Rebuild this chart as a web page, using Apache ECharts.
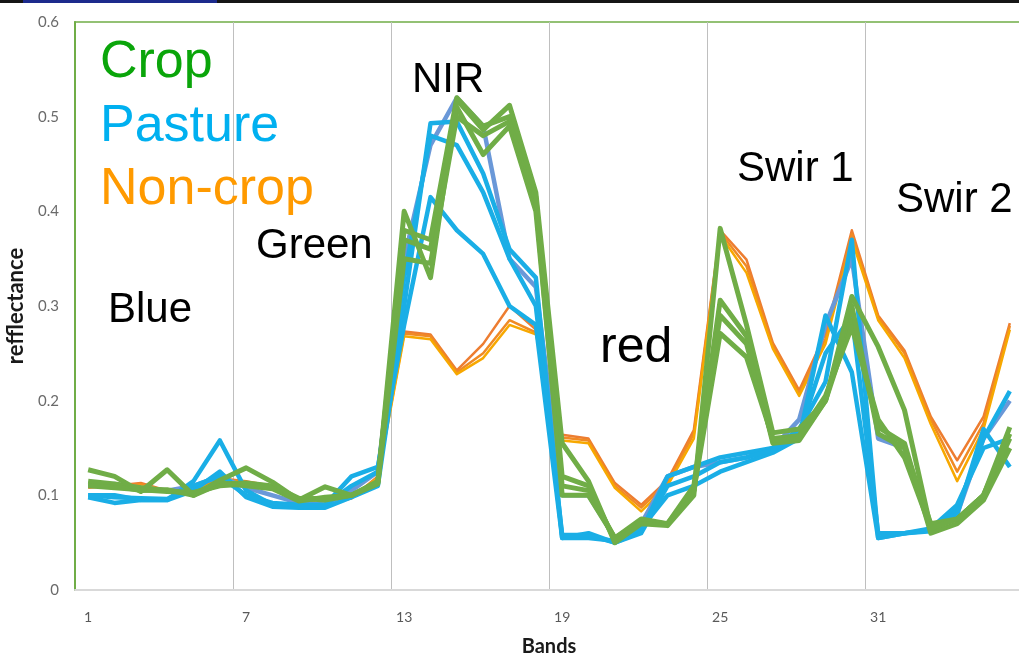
<!DOCTYPE html>
<html>
<head>
<meta charset="utf-8">
<script src="https://cdn.jsdelivr.net/npm/echarts@6/dist/echarts.min.js"></script>
<style>
html,body{margin:0;padding:0;background:#fff;}
#chart{width:1019px;height:663px;}
</style>
</head>
<body>
<div id="chart"></div>
<script>
// Band numbers (categories)
var bands = ['1','2','3','4','5','6','7','8','9','10','11','12','13','14','15','16','17','18','19','20','21','22','23','24','25','26','27','28','29','30','31','32','33','34','35','36'];
var yTicks = [0, 0.1, 0.2, 0.3, 0.4, 0.5, 0.6];

// Non-crop spectra
var nonCrop1 = [0.108,0.110,0.113,0.105,0.105,0.118,0.115,0.110,0.095,0.090,0.097,0.120, 0.273,0.270,0.232,0.260,0.300,0.275, 0.164,0.160,0.113,0.090,0.116,0.169, 0.380,0.349,0.261,0.211,0.271,0.380, 0.290,0.253,0.183,0.137,0.183,0.282];
var nonCrop2 = [0.110,0.108,0.110,0.106,0.104,0.116,0.113,0.108,0.094,0.091,0.098,0.118, 0.268,0.265,0.228,0.245,0.280,0.270, 0.158,0.155,0.108,0.083,0.110,0.160, 0.375,0.335,0.255,0.205,0.260,0.370, 0.285,0.245,0.175,0.115,0.170,0.275];
var nonCrop3 = [0.109,0.109,0.112,0.104,0.104,0.117,0.114,0.109,0.094,0.090,0.097,0.119, 0.271,0.268,0.230,0.250,0.285,0.272, 0.161,0.158,0.110,0.087,0.113,0.165, 0.378,0.342,0.258,0.208,0.265,0.376, 0.288,0.250,0.180,0.125,0.176,0.279];

// Pasture spectra
var pasture1 = [0.098,0.092,0.095,0.095,0.105,0.125,0.098,0.088,0.087,0.087,0.098,0.110, 0.300,0.493,0.495,0.440,0.360,0.330, 0.055,0.060,0.050,0.062,0.120,0.130, 0.140,0.145,0.150,0.170,0.220,0.370, 0.055,0.060,0.062,0.085,0.160,0.210];
var pasture2 = [0.100,0.100,0.095,0.095,0.115,0.158,0.105,0.090,0.088,0.090,0.120,0.130, 0.280,0.415,0.380,0.355,0.300,0.280, 0.055,0.055,0.052,0.065,0.100,0.110, 0.125,0.135,0.145,0.160,0.290,0.230, 0.055,0.060,0.063,0.080,0.170,0.130];
var pasture3 = [0.100,0.098,0.097,0.096,0.110,0.120,0.100,0.092,0.090,0.090,0.110,0.125, 0.330,0.480,0.470,0.420,0.350,0.300, 0.058,0.058,0.050,0.060,0.110,0.120, 0.135,0.140,0.148,0.165,0.250,0.290, 0.060,0.060,0.065,0.090,0.150,0.160];
var pasture4 = [0.110,0.112,0.108,0.105,0.110,0.120,0.108,0.100,0.092,0.090,0.105,0.125, 0.350,0.470,0.520,0.490,0.350,0.320, 0.100,0.100,0.055,0.070,0.120,0.130, 0.135,0.140,0.150,0.180,0.280,0.350, 0.160,0.150,0.065,0.080,0.160,0.200];

// Crop spectra
var crop1 = [0.127,0.120,0.104,0.127,0.100,0.116,0.129,0.114,0.095,0.109,0.100,0.113, 0.400,0.330,0.518,0.486,0.512,0.420, 0.155,0.115,0.050,0.070,0.068,0.100, 0.382,0.280,0.166,0.170,0.200,0.310, 0.257,0.190,0.065,0.075,0.100,0.172];
var crop2 = [0.112,0.110,0.105,0.106,0.100,0.112,0.113,0.110,0.097,0.095,0.100,0.115, 0.370,0.360,0.510,0.460,0.490,0.400, 0.110,0.105,0.055,0.075,0.070,0.110, 0.306,0.268,0.155,0.158,0.200,0.285, 0.172,0.155,0.060,0.070,0.095,0.150];
var crop3 = [0.115,0.112,0.108,0.105,0.102,0.113,0.110,0.107,0.094,0.098,0.100,0.112, 0.350,0.345,0.500,0.480,0.495,0.410, 0.100,0.100,0.055,0.072,0.070,0.105, 0.271,0.246,0.160,0.163,0.205,0.278, 0.180,0.140,0.065,0.075,0.100,0.160];
var crop4 = [0.110,0.108,0.106,0.104,0.103,0.110,0.112,0.108,0.096,0.097,0.100,0.114, 0.380,0.370,0.520,0.490,0.500,0.415, 0.120,0.110,0.052,0.073,0.069,0.105, 0.290,0.260,0.158,0.160,0.200,0.300, 0.165,0.150,0.070,0.075,0.100,0.165];

var seriesDefs = [
  {d: nonCrop1, c: '#ed7d31', w: 2.5},
  {d: nonCrop3, c: '#f08a24', w: 2.5},
  {d: nonCrop2, c: '#f7a800', w: 2.5},
  {d: pasture4, c: '#6a98d8', w: 4.5},
  {d: pasture1, c: '#1aaee6', w: 4.5},
  {d: pasture2, c: '#1aaee6', w: 4.5},
  {d: pasture3, c: '#1aaee6', w: 4.5},
  {d: crop2, c: '#70ad47', w: 5},
  {d: crop3, c: '#70ad47', w: 5},
  {d: crop4, c: '#70ad47', w: 5},
  {d: crop1, c: '#70ad47', w: 5}
];

var chart = echarts.init(document.getElementById('chart'), null, {renderer: 'canvas'});

var bigFont = '"Liberation Sans", Arial, sans-serif';
var axisFont = 'Lato, "Open Sans", sans-serif';
function label(text, x, y, size, color) {
  return {type: 'text', x: x, y: y, z: 100,
    style: {text: text, fill: color, font: size + 'px ' + bigFont, textAlign: 'left', textVerticalAlign: 'middle', verticalAlign: 'middle'}};
}

var option = {
  animation: false,
  backgroundColor: '#ffffff',
  grid: {left: 75, top: 22, right: -4, bottom: 73, containLabel: false, outerBoundsMode: 'none',
    show: true, borderColor: '#70ad47', borderWidth: 1.5, backgroundColor: 'transparent'},
  xAxis: {
    type: 'category',
    data: bands,
    boundaryGap: true,
    name: 'Bands',
    nameLocation: 'middle',
    nameGap: 47,
    nameTextStyle: {fontFamily: axisFont, fontWeight: 'bold', fontSize: 20, color: '#1a1a1a'},
    axisLine: {show: true, lineStyle: {color: '#d9d9d9', width: 2}},
    axisTick: {show: false},
    axisLabel: {interval: 5, margin: 20, color: '#595959', fontSize: 14, fontFamily: axisFont},
    splitLine: {show: true, interval: 5, lineStyle: {color: '#bfbfbf', width: 1}}
  },
  yAxis: {
    type: 'value',
    min: 0, max: 0.6, interval: 0.1,
    name: 'refflectance',
    nameLocation: 'middle',
    nameGap: 45,
    nameRotate: 90,
    nameTextStyle: {fontFamily: axisFont, fontWeight: 'bold', fontSize: 22, color: '#1a1a1a'},
    axisLine: {show: true, lineStyle: {color: '#70ad47', width: 2}},
    axisTick: {show: false},
    splitLine: {show: false},
    axisLabel: {margin: 16, color: '#6a6a6a', fontSize: 15, fontFamily: axisFont,
      formatter: function (v) { return v === 0 ? '0' : v.toFixed(1); }}
  },
  series: seriesDefs.map(function (s) {
    return {type: 'line', data: s.d, symbol: 'none', smooth: false,
      lineStyle: {color: s.c, width: s.w, join: 'round'}, itemStyle: {color: s.c}};
  }),
  graphic: [
    {type: 'rect', shape: {x: 0, y: 0, width: 1019, height: 3}, style: {fill: '#161616'}, z: 100},
    {type: 'rect', shape: {x: 23, y: 0, width: 194, height: 3}, style: {fill: '#1c2a8c'}, z: 101},
    label('Crop', 100, 63, 52, '#0aa50a'),
    label('Pasture', 100, 127, 52, '#00b0f0'),
    label('Non-crop', 100, 190, 52, '#ff9a00'),
    label('Blue', 108, 310, 42, '#000000'),
    label('Green', 256, 246, 42, '#000000'),
    label('NIR', 412, 80, 42, '#000000'),
    label('red', 600, 348, 50, '#000000'),
    label('Swir 1', 737, 169, 42, '#000000'),
    label('Swir 2', 896, 200, 42, '#000000')
  ]
};
chart.setOption(option);
</script>
</body>
</html>
